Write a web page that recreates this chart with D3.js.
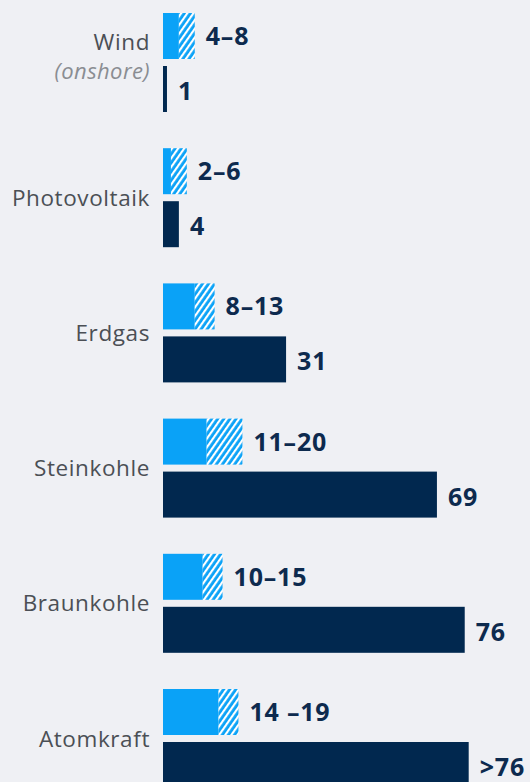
<!DOCTYPE html>
<html>
<head>
<meta charset="utf-8">
<script src="https://cdn.jsdelivr.net/npm/d3@7"></script>
<style>
  html, body { margin: 0; padding: 0; background: #eff0f4; }
  svg { display: block; }
</style>
</head>
<body>
<script>
const categories = ["Wind", "Photovoltaik", "Erdgas", "Steinkohle", "Braunkohle", "Atomkraft"];
const subLabels = ["(onshore)", "", "", "", "", ""];
const lowValues = [4, 2, 8, 11, 10, 14];
const highValues = [8, 6, 13, 20, 15, 19];
const darkValues = [1, 4, 31, 69, 76, 77];
const rangeLabels = ["4–8", "2–6", "8–13", "11–20", "10–15", "14 –19"];
const darkLabels = ["1", "4", "31", "69", "76", ">76"];

const W = 530, H = 782;
const lightColor = "#0aa2f7";
const darkColor = "#01284f";
const textColor = "#0d2a4e";

const svg = d3.select("body").append("svg").attr("width", W).attr("height", H);
svg.append("rect").attr("width", W).attr("height", H).attr("fill", "#eff0f4");

const defs = svg.append("defs");
const pat = defs.append("pattern")
  .attr("id", "hatch")
  .attr("patternUnits", "userSpaceOnUse")
  .attr("width", 5).attr("height", 5)
  .attr("patternTransform", "rotate(35)");
pat.append("rect").attr("width", 5).attr("height", 5).attr("fill", lightColor);
pat.append("line").attr("x1", 1).attr("y1", 0).attr("x2", 1).attr("y2", 5)
  .attr("stroke", "#ffffff").attr("stroke-width", 2.3);

const x = d3.scaleLinear().domain([0, 80]).range([163, 163 + 80 * 3.97]);
const step = 135.2;
const y = d3.scaleBand().domain(categories)
  .range([13, 13 + step * (categories.length - 0.269)])
  .paddingInner(0.269).paddingOuter(0).align(0);

const barH = 46, gap = 7;

const g = svg.selectAll("g.cat").data(categories).join("g").attr("class", "cat");

// light solid part
g.append("rect")
  .attr("x", x(0))
  .attr("y", d => y(d))
  .attr("width", (d, i) => x(lowValues[i]) - x(0))
  .attr("height", barH)
  .attr("fill", lightColor);

// hatched part
g.append("rect")
  .attr("x", (d, i) => x(lowValues[i]))
  .attr("y", d => y(d))
  .attr("width", (d, i) => x(highValues[i]) - x(lowValues[i]))
  .attr("height", barH)
  .attr("fill", "url(#hatch)");

// dark bar
g.append("rect")
  .attr("x", x(0))
  .attr("y", d => y(d) + barH + gap)
  .attr("width", (d, i) => x(darkValues[i]) - x(0))
  .attr("height", barH)
  .attr("fill", darkColor);

// range labels
g.append("text")
  .attr("x", (d, i) => x(highValues[i]) + 11)
  .attr("y", d => y(d) + barH / 2)
  .attr("dy", "0.36em")
  .attr("font-family", "'Open Sans', sans-serif")
  .attr("font-weight", 700)
  .attr("font-size", 25)
  .attr("letter-spacing", 0.8)
  .attr("fill", textColor)
  .text((d, i) => rangeLabels[i]);

// dark labels
g.append("text")
  .attr("x", (d, i) => x(darkValues[i]) + 11)
  .attr("y", d => y(d) + barH + gap + barH / 2 + 2)
  .attr("dy", "0.36em")
  .attr("font-family", "'Open Sans', sans-serif")
  .attr("font-weight", 700)
  .attr("font-size", 25)
  .attr("letter-spacing", 0.8)
  .attr("fill", textColor)
  .text((d, i) => darkLabels[i]);

// category labels
g.each(function(d, i) {
  const sel = d3.select(this);
  const cy = y(d) + (barH * 2 + gap) / 2;
  if (subLabels[i]) {
    sel.append("text")
      .attr("x", 150).attr("y", cy - 13)
      .attr("text-anchor", "end")
      .attr("font-family", "'Open Sans', sans-serif")
      .attr("font-size", 22.5)
      .attr("letter-spacing", 0.6)
      .attr("fill", "#4b4f55")
      .text(d);
    sel.append("text")
      .attr("x", 150).attr("y", cy + 16)
      .attr("text-anchor", "end")
      .attr("font-family", "'Open Sans', sans-serif")
      .attr("font-style", "italic")
      .attr("font-size", 22)
      .attr("letter-spacing", 0.4)
      .attr("fill", "#8a8d92")
      .text(subLabels[i]);
  } else {
    sel.append("text")
      .attr("x", 150).attr("y", cy)
      .attr("dy", "0.36em")
      .attr("text-anchor", "end")
      .attr("font-family", "'Open Sans', sans-serif")
      .attr("font-size", 22.5)
      .attr("letter-spacing", 0.6)
      .attr("fill", "#4b4f55")
      .text(d);
  }
});
</script>
</body>
</html>
